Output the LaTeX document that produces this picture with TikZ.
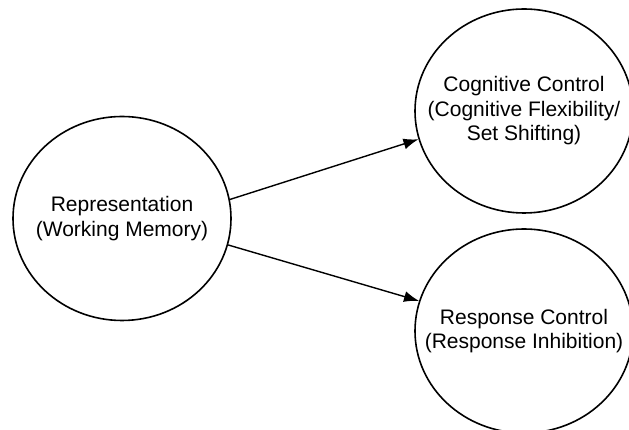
\documentclass[tikz,border=0pt]{standalone}
\usepackage{fontspec}
\setmainfont{Liberation Sans}
\usetikzlibrary{shapes.geometric,arrows.meta}
\begin{document}
\begin{tikzpicture}[x=1pt,y=1pt,
  bubble/.style={draw=black,line width=1.6pt,ellipse,inner sep=0pt,
    minimum width=218pt,minimum height=204pt},
  bubbletext/.style={align=center,inner sep=0pt,
    font=\fontsize{21}{24.5}\selectfont},
  link/.style={draw=black,line width=1.4pt,-{Latex[length=15pt,width=11pt]}}]
\useasboundingbox (0,0) rectangle (629,430);
\clip (0,0) rectangle (629,430);
\node[bubble,label={[bubbletext]center:Representation\\(Working Memory)}] (rep) at (122,211.5) {};
\node[bubble,label={[bubbletext]center:Cognitive Control\\(Cognitive Flexibility/\\Set Shifting)}] (cog) at (524,319) {};
\node[bubble,label={[bubbletext]center:Response Control\\(Response Inhibition)}] (resp) at (524,99) {};
\draw[link] (rep.10.6) -- (cog.195);
\draw[link] (rep.-14.8) -- (resp.164);
\end{tikzpicture}
\end{document}
